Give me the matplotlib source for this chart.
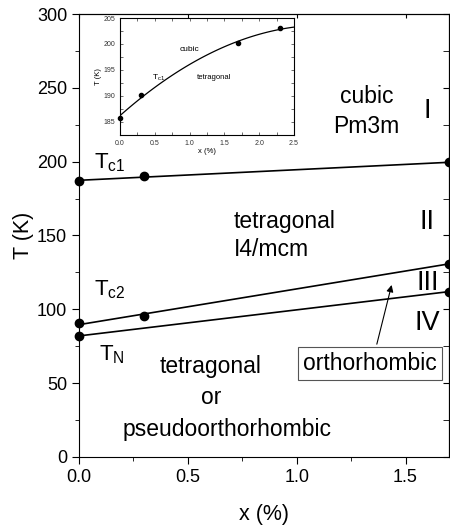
import numpy as np
import matplotlib.pyplot as plt

plt.rcParams['font.family'] = ['Liberation Sans', 'DejaVu Sans']

# main phase diagram data
x_tc1 = [0.0, 0.3, 1.7]
t_tc1 = [187.0, 190.0, 199.5]
x_tc2 = [0.0, 0.3, 1.7]
t_tc2 = [90.6, 95.7, 131.0]
x_tn = [0.0, 1.7]
t_tn = [82.0, 112.0]

# inset data (Tc1 over wider range)
x_ins = [0.0, 0.3, 1.7, 2.3]
t_ins = [185.8, 190.2, 200.2, 203.0]

fig = plt.figure(figsize=(4.5, 5.31), dpi=100)
ax = fig.add_axes([0.1756, 0.1394, 0.8224, 0.8342])

# straight fits through the points
xs = np.array([0.0, 1.7])
for xd, td in [(x_tc1, t_tc1), (x_tc2, t_tc2), (x_tn, t_tn)]:
    p = np.polyfit(xd, td, 1)
    ax.plot(xs, np.polyval(p, xs), color='black', lw=1.2, clip_on=False)
    ax.plot(xd, td, 'o', color='black', ms=6, clip_on=False, zorder=5)

ax.set_xlim(0, 1.7)
ax.set_ylim(0, 300)
ax.set_xticks([0.0, 0.5, 1.0, 1.5])
ax.set_xticks([0.25, 0.75, 1.25], minor=True)
ax.set_yticks([0, 50, 100, 150, 200, 250, 300])
ax.set_yticks([25, 75, 125, 175, 225, 275], minor=True)
ax.tick_params(which='both', direction='out', labelsize=13, top=False, right=False)
ax.tick_params(which='major', length=5)
ax.tick_params(which='minor', length=3)
ax.set_xlabel('x (%)', fontsize=15.5, labelpad=13)
ax.set_ylabel('T (K)', fontsize=15.5, labelpad=2)

# inward ticks on right and top spines
axr = ax.secondary_yaxis('right')
axr.set_yticks([0, 50, 100, 150, 200, 250, 300], labels=[])
axr.set_yticks([25, 75, 125, 175, 225, 275], minor=True)
axr.tick_params(which='both', direction='in', length=4)
axt = ax.secondary_xaxis('top')
axt.set_xticks([0.0, 0.5, 1.0, 1.5], labels=[])
axt.tick_params(which='both', direction='in', length=3)

fs = 16.5
rn = 19.5
ax.text(0.07, 199, 'T$_{\\mathregular{c1}}$', fontsize=16, va='center')
ax.text(0.07, 113, 'T$_{\\mathregular{c2}}$', fontsize=16, va='center')
ax.text(0.09, 69, 'T$_{\\mathregular{N}}$', fontsize=16, va='center')
ax.text(1.32, 234, 'cubic\nPm3m', fontsize=fs, ha='center', va='center',
        linespacing=1.35)
ax.text(1.6, 234, 'I', fontsize=rn, ha='center', va='center')
ax.text(0.71, 150, 'tetragonal\nI4/mcm', fontsize=fs, ha='left', va='center',
        linespacing=1.3)
ax.text(1.6, 159, 'II', fontsize=rn, ha='center', va='center')
ax.text(1.6, 118, 'III', fontsize=rn, ha='center', va='center')
ax.text(1.6, 91, 'IV', fontsize=rn, ha='center', va='center')
ax.text(0.605, 61, 'tetragonal', fontsize=fs, ha='center', va='center')
ax.text(0.605, 40, 'or', fontsize=fs, ha='center', va='center')
ax.text(0.68, 18.3, 'pseudoorthorhombic', fontsize=fs, ha='center', va='center')
ax.text(1.335, 63, 'orthorhombic', fontsize=fs, ha='center', va='center',
        bbox=dict(boxstyle='square,pad=0.22', fc='white', ec='#555555', lw=0.8))
ax.annotate('', xy=(1.436, 116.5), xytext=(1.368, 76.4),
            arrowprops=dict(arrowstyle='-|>', color='black', lw=0.8,
                            mutation_scale=10, shrinkA=0, shrinkB=0))

# inset
ins = fig.add_axes([0.2667, 0.7458, 0.3867, 0.2203])
p2 = np.polyfit(x_ins, t_ins, 2)
xc = np.linspace(0, 2.5, 100)
ins.plot(xc, np.polyval(p2, xc), color='black', lw=0.9)
ins.plot(x_ins, t_ins, 'o', color='black', ms=3, clip_on=False)
ins.set_xlim(0, 2.5)
ins.set_ylim(182.5, 205)
ins.set_xticks([0.0, 0.5, 1.0, 1.5, 2.0, 2.5])
ins.set_yticks([185, 190, 195, 200, 205])
ins.set_xticks(np.arange(0.25, 2.5, 0.5), minor=True)
ins.set_yticks(np.arange(187.5, 205, 5), minor=True)
ins.tick_params(which='both', direction='in', top=True, right=True,
                labelsize=5, length=2, width=0.5, colors='#333333')
ins.set_xlabel('x (%)', fontsize=5.5, labelpad=1)
ins.set_ylabel('T (K)', fontsize=5.5, labelpad=1)
for s in ins.spines.values():
    s.set_linewidth(0.8)
ins.text(1.0, 199, 'cubic', fontsize=6, ha='center', va='center')
ins.text(0.55, 193.5, 'T$_{\\mathregular{c1}}$', fontsize=6, ha='center', va='center')
ins.text(1.35, 193.5, 'tetragonal', fontsize=5.5, ha='center', va='center')

fig.savefig('out.png', dpi=100)
